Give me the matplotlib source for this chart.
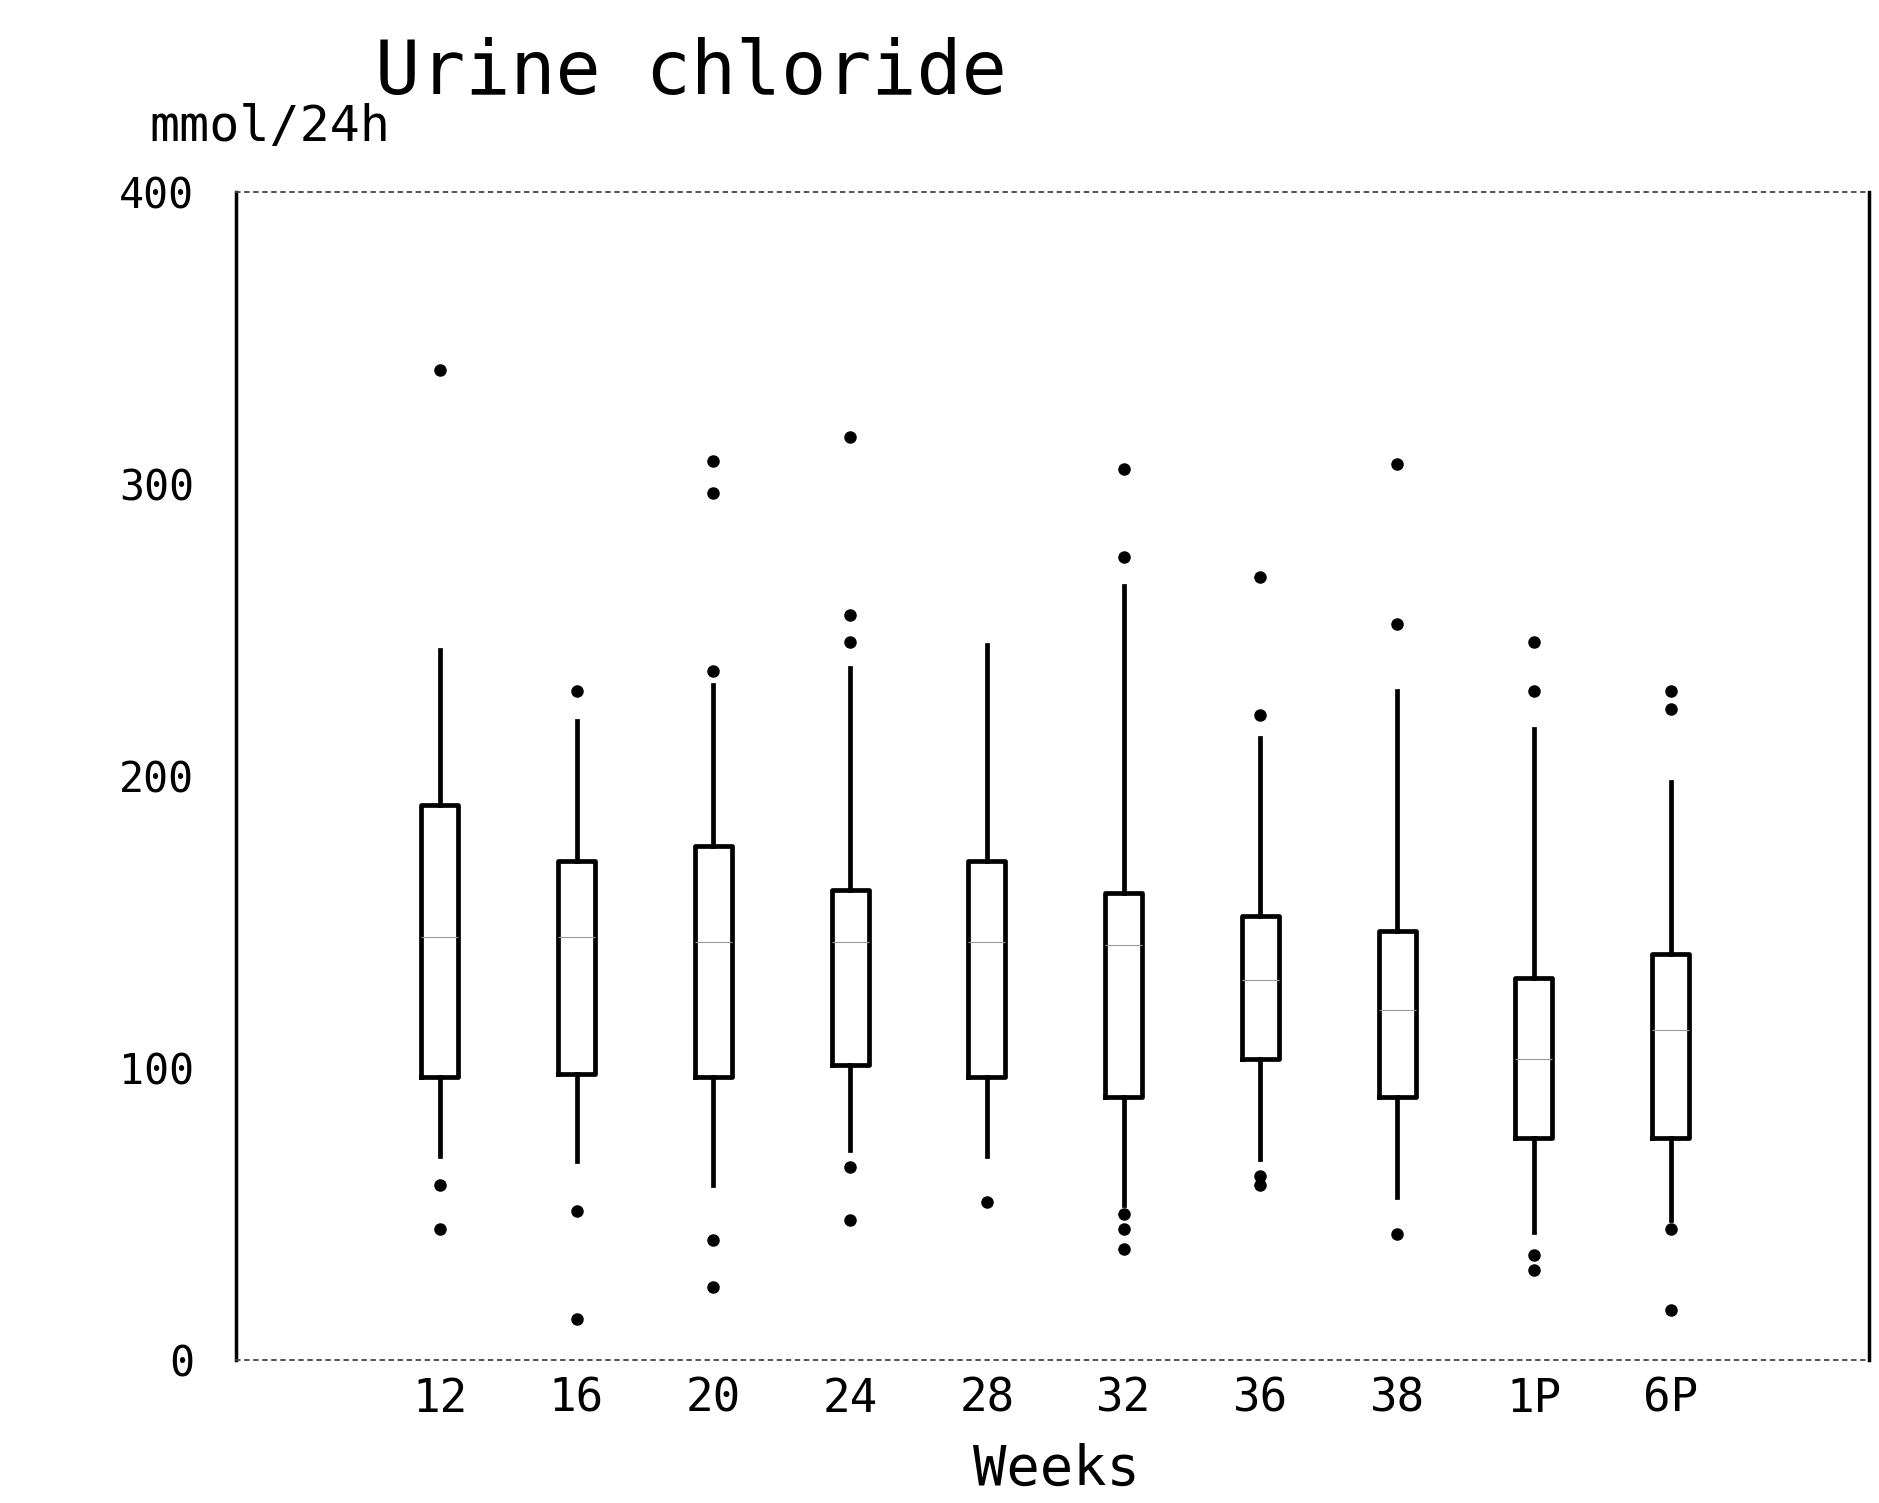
import matplotlib
matplotlib.use("Agg")
import matplotlib.pyplot as plt
import numpy as np

plt.rcParams['font.family'] = ['DejaVu Sans Mono', 'DejaVu Sans']

# weeks of pregnancy (P = postpartum)
weeks = ["12", "16", "20", "24", "28", "32", "36", "38", "1P", "6P"]

# box statistics, mmol/24h
whis_lo = [70, 68, 60, 72, 70, 53, 69, 56, 44, 48]
q1 = [97, 98, 97, 101, 97, 90, 103, 90, 76, 76]
med = [145, 145, 143, 143, 143, 142, 130, 120, 103, 113]
q3 = [190, 171, 176, 161, 171, 160, 152, 147, 131, 139]
whis_hi = [243, 219, 231, 237, 245, 265, 213, 229, 216, 198]

outliers = [
    [339, 60, 45],
    [229, 51, 14],
    [308, 297, 236, 41, 25],
    [316, 255, 246, 66, 48],
    [54],
    [305, 275, 50, 45, 38],
    [268, 221, 63, 60],
    [307, 252, 43],
    [246, 229, 36, 31],
    [229, 223, 45, 17],
]

stats = []
for i in range(len(weeks)):
    stats.append({"label": weeks[i], "whislo": whis_lo[i], "q1": q1[i], "med": med[i],
                  "q3": q3[i], "whishi": whis_hi[i], "fliers": outliers[i]})

fig = plt.figure(figsize=(18.79, 15.03), dpi=100)
ax = fig.add_axes([0.1256, 0.0951, 0.8691, 0.7772])

pos = np.arange(len(weeks))
ax.bxp(stats, positions=pos, widths=0.27, showcaps=False,
       boxprops=dict(color="black", linewidth=3.4),
       whiskerprops=dict(color="black", linewidth=3.4),
       medianprops=dict(color="#9a9a9a", linewidth=0.8),
       flierprops=dict(marker="o", markerfacecolor="black", markeredgecolor="black", markersize=8))

ax.set_xlim(-1.49, 10.45)
ax.set_ylim(0, 400)
ax.set_yticks([0, 100, 200, 300, 400])
ax.set_xticks(pos)
ax.set_xticklabels(weeks)
ax.tick_params(axis="y", length=0, pad=30, labelsize=30)
ax.tick_params(axis="x", length=0, pad=12, labelsize=33)

ax.spines["left"].set_linewidth(2.5)
ax.spines["right"].set_linewidth(2.5)
for s in ["top", "bottom"]:
    ax.spines[s].set_linestyle((0, (2, 3)))
    ax.spines[s].set_linewidth(1.3)
    ax.spines[s].set_color("#444444")

ax.set_xlabel("Weeks", fontsize=40)
ax.xaxis.set_label_coords(0.5027, -0.071)
ax.set_ylabel("mmol/24h", fontsize=36, rotation=0, ha="center", va="center")
ax.yaxis.set_label_coords(0.0208, 1.056)

fig.suptitle("Urine chloride", x=0.3678, y=0.951, va="center", fontsize=54)

plt.savefig("out.png", dpi=100)
